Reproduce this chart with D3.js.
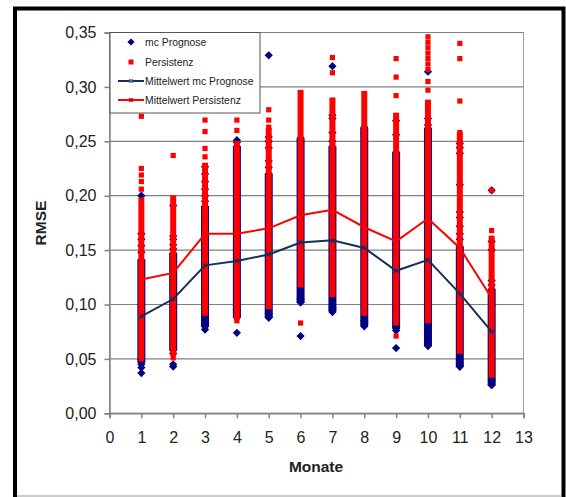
<!DOCTYPE html>
<html><head><meta charset="utf-8">
<script src="https://cdn.jsdelivr.net/npm/d3@7"></script>
<style>body{margin:0;background:#fff}svg{display:block}text{font-family:"Liberation Sans",Arial,sans-serif}</style>
</head><body>
<svg id="c" width="566" height="497"></svg>
<script>
const months = [1,2,3,4,5,6,7,8,9,10,11,12];
const xTicks = [0,1,2,3,4,5,6,7,8,9,10,11,12,13];
const yTicks = [0,0.05,0.10,0.15,0.20,0.25,0.30,0.35];
const seriesNames = ["mc Prognose","Persistenz","Mittelwert mc Prognose","Mittelwert Persistenz"];

// mean per month
const mcMean   = [0.089,0.105,0.136,0.140,0.146,0.157,0.159,0.152,0.131,0.141,0.110,0.075];
const persMean = [0.123,0.129,0.165,0.165,0.170,0.182,0.187,0.171,0.158,0.179,0.152,0.106];

// densely overlapping point ranges per month (low / high)
const mcDenseLow   = [0.047,0.058,0.080,0.088,0.088,0.102,0.094,0.081,0.078,0.062,0.043,0.026];
const mcDenseHigh  = [0.141,0.147,0.190,0.245,0.220,0.252,0.245,0.262,0.240,0.262,0.153,0.114];
const persDenseLow = [0.053,0.055,0.092,0.088,0.098,0.118,0.109,0.092,0.083,0.085,0.057,0.035];
const persDenseHigh= [0.196,0.198,0.228,0.248,0.260,0.295,0.288,0.294,0.274,0.286,0.256,0.161];

// individual (separated) points [month, RMSE]
const mcPoints = [
 [1,0.200],[1,0.165],[1,0.160],[1,0.154],[1,0.148],[1,0.045],[1,0.042],[1,0.037],
 [2,0.191],[2,0.163],[2,0.160],[2,0.155],[2,0.151],[2,0.055],[2,0.045],[2,0.043],
 [3,0.2265],[3,0.220],[3,0.213],[3,0.206],[3,0.200],[3,0.195],[3,0.085],[3,0.080],[3,0.077],
 [4,0.251],[4,0.249],[4,0.245],[4,0.095],[4,0.090],[4,0.074],
 [5,0.329],[5,0.254],[5,0.250],[5,0.244],[5,0.232],[5,0.226],[5,0.092],[5,0.088],
 [6,0.253],[6,0.105],[6,0.102],[6,0.071],
 [7,0.319],[7,0.274],[7,0.271],[7,0.258],[7,0.250],[7,0.097],[7,0.093],
 [8,0.263],[8,0.258],[8,0.085],[8,0.080],
 [9,0.269],[9,0.256],[9,0.080],[9,0.076],[9,0.060],
 [10,0.314],[10,0.271],[10,0.265],[10,0.066],[10,0.062],
 [11,0.248],[11,0.244],[11,0.239],[11,0.210],[11,0.185],[11,0.180],[11,0.172],[11,0.165],[11,0.160],[11,0.046],[11,0.043],
 [12,0.205],[12,0.158],[12,0.150],[12,0.122],[12,0.118],[12,0.030],[12,0.026]
];
const persPoints = [
 [1,0.273],[1,0.225],[1,0.219],[1,0.213],[1,0.206],[1,0.050],
 [2,0.237],[2,0.051],
 [3,0.2695],[3,0.259],[3,0.2434],[3,0.2357],
 [4,0.2695],[4,0.260],[4,0.085],
 [5,0.279],[5,0.2695],[5,0.263],
 [6,0.083],
 [7,0.327],[7,0.313],
 [9,0.326],[9,0.309],[9,0.292],[9,0.071],
 [10,0.346],[10,0.341],[10,0.336],[10,0.331],[10,0.326],[10,0.321],[10,0.316],[10,0.305],[10,0.297],
 [11,0.340],[11,0.326],[11,0.287],[11,0.258],
 [12,0.168],[12,0.205]
];

const BLUE = "#000080", RED = "#ff0000", MEANBLUE = "#15305c";
const svg = d3.select("#c");
const L = 109.5, R = 523.5, T = 32.5, B = 413.3;
const x = d3.scaleLinear().domain([0,13]).range([L,R]);
const y = d3.scaleLinear().domain([0,0.35]).range([B,T]);
const fmt = v => d3.format(".2f")(v).replace(".", ",");

// outer frame
svg.append("rect").attr("x",15).attr("y",8.5).attr("width",548.5).attr("height",497).attr("fill","#fff").attr("stroke","#000").attr("stroke-width",4);
svg.append("line").attr("x1",17).attr("x2",561).attr("y1",496).attr("y2",496).attr("stroke","#999").attr("stroke-width",1.2);

// plot area & grid
svg.append("rect").attr("x",L).attr("y",T).attr("width",R-L).attr("height",B-T).attr("fill","#fff").attr("stroke","#a0a0a0").attr("stroke-width",1);
svg.append("g").selectAll("line").data(yTicks).join("line")
  .attr("x1",L).attr("x2",R).attr("y1",d=>y(d)).attr("y2",d=>y(d))
  .attr("stroke","#808080").attr("stroke-width",1.2);

// axes
const xAxis = d3.axisBottom(x).tickValues(xTicks).tickSize(5).tickPadding(8).tickFormat(d3.format("d"));
const gx = svg.append("g").attr("transform",`translate(0,${B})`).call(xAxis);
const yAxis = d3.axisLeft(y).tickValues(yTicks).tickSize(5).tickPadding(6).tickFormat(fmt);
const gy = svg.append("g").attr("transform",`translate(${L},0)`).call(yAxis);
[gx,gy].forEach(g=>{
  g.select(".domain").attr("stroke","#808080").attr("stroke-width",1.5);
  g.selectAll(".tick line").attr("stroke","#808080").attr("stroke-width",1.5);
  g.selectAll(".tick text").attr("font-size",16).attr("fill","#222").attr("font-family","'Liberation Sans',Arial,sans-serif");
});
gx.selectAll(".tick text").attr("dy","1.05em");
gy.selectAll(".tick text").attr("dx","-2");

svg.append("text").attr("x",316).attr("y",472).attr("text-anchor","middle").attr("font-size",15.5).attr("font-weight","bold").attr("fill","#222").text("Monate");
svg.append("text").attr("transform","translate(46,223) rotate(-90)").attr("text-anchor","middle").attr("font-size",15.5).attr("font-weight","bold").attr("fill","#222").text("RMSE");

const diamond = d3.symbol().type(d3.symbolSquare).size(34);
const plot = svg.append("g");

// mc Prognose: dense strips + points
plot.append("g").selectAll("rect").data(months).join("rect")
  .attr("x",d=>x(d)-4).attr("width",8)
  .attr("y",(d,i)=>y(mcDenseHigh[i])).attr("height",(d,i)=>y(mcDenseLow[i])-y(mcDenseHigh[i]))
  .attr("fill",BLUE);
plot.append("g").selectAll("path").data(months.flatMap((m,i)=>[[m,mcDenseLow[i]],[m,mcDenseHigh[i]]]).concat(mcPoints)).join("path")
  .attr("d",diamond).attr("transform",d=>`translate(${x(d[0])},${y(d[1])}) rotate(45)`).attr("fill",BLUE);

// Persistenz: dense strips + points
plot.append("g").selectAll("rect").data(months).join("rect")
  .attr("x",d=>x(d)-3).attr("width",6)
  .attr("y",(d,i)=>y(persDenseHigh[i])-2.5).attr("height",(d,i)=>y(persDenseLow[i])-y(persDenseHigh[i])+5)
  .attr("fill",RED);
plot.append("g").selectAll("rect").data(persPoints).join("rect")
  .attr("x",d=>x(d[0])-2.6).attr("y",d=>y(d[1])-2.6).attr("width",5.2).attr("height",5.2).attr("fill",RED);

// mean lines
const line = d3.line().x((d,i)=>x(months[i])).y(d=>y(d));
function meanSeries(vals,color,w){
  plot.append("path").attr("d",line(vals)).attr("fill","none").attr("stroke",color).attr("stroke-width",w);
  plot.append("g").selectAll("path").data(vals).join("path")
    .attr("d",d3.symbol().type(d3.symbolCross).size(14)())
    .attr("transform",(d,i)=>`translate(${x(months[i])},${y(d)}) rotate(45)`)
    .attr("fill",color).attr("opacity",0.8);
}
meanSeries(mcMean,MEANBLUE,2);
meanSeries(persMean,RED,2);

// legend
const lg = svg.append("g");
lg.append("rect").attr("x",110).attr("y",32.5).attr("width",150).attr("height",80.5).attr("fill","#fff").attr("stroke","#555").attr("stroke-width",1);
const ly = [42,62,81,100];
lg.append("path").attr("d",d3.symbol().type(d3.symbolSquare).size(26)()).attr("transform",`translate(131,${ly[0]}) rotate(45)`).attr("fill",BLUE);
lg.append("rect").attr("x",128.5).attr("y",ly[1]-2.5).attr("width",5).attr("height",5).attr("fill",RED);
lg.append("line").attr("x1",118).attr("x2",144).attr("y1",ly[2]).attr("y2",ly[2]).attr("stroke",MEANBLUE).attr("stroke-width",2);
lg.append("path").attr("d",d3.symbol().type(d3.symbolCross).size(14)()).attr("transform",`translate(131,${ly[2]}) rotate(45)`).attr("fill","#4a6fa0");
lg.append("line").attr("x1",118).attr("x2",144).attr("y1",ly[3]).attr("y2",ly[3]).attr("stroke",RED).attr("stroke-width",2);
lg.append("path").attr("d",d3.symbol().type(d3.symbolCross).size(14)()).attr("transform",`translate(131,${ly[3]}) rotate(45)`).attr("fill","#c00");
lg.selectAll("text").data(seriesNames).join("text")
  .attr("x",145).attr("y",(d,i)=>ly[i]+4).attr("font-size",10.4).attr("fill","#222").text(d=>d);
</script>
</body></html>
